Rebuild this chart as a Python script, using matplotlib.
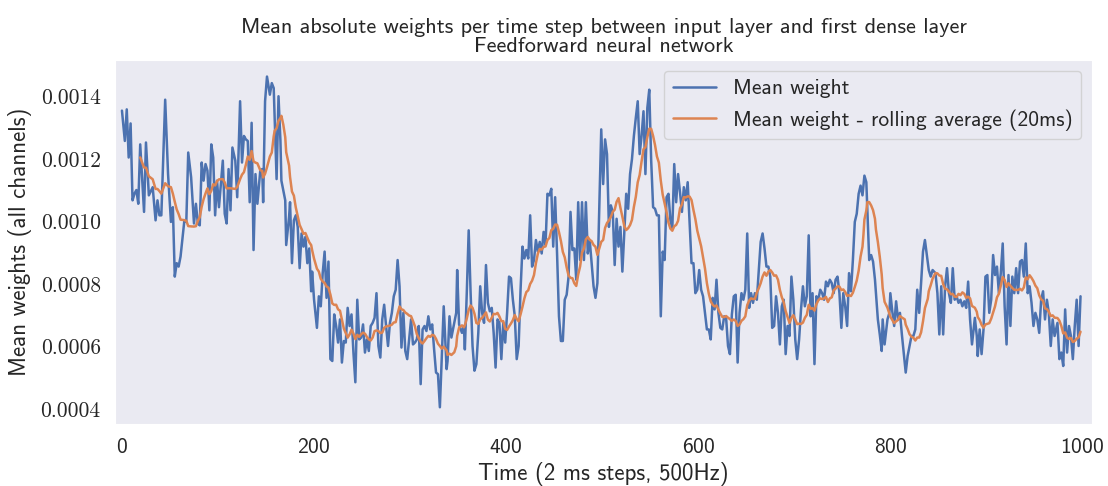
import numpy as np
import pandas as pd
import seaborn as sns
import matplotlib.pyplot as plt

# time index (2 ms steps) and mean absolute weight (x1e-4)
steps = [0, 3, 5, 7, 9, 11, 13, 15, 17, 19, 23, 25, 28, 32, 35, 37, 39, 41, 45, 48,
         51, 53, 55, 57, 59, 61, 65, 67, 69, 72, 75, 77, 79, 81, 83, 85, 87, 89, 91, 93,
         95, 97, 99, 101, 105, 107, 109, 111, 113, 115, 118, 120, 123,
         125, 127, 129, 131, 133, 135, 137, 139, 141, 144, 146, 147, 149, 151, 154, 156, 158,
         159, 161, 163, 165, 166, 168, 170, 171, 174, 175, 177, 179, 181, 183, 185, 187, 189,
         191, 193, 195, 197, 198, 200, 203, 205, 207, 209, 211, 213, 215, 217, 219, 221, 223,
         225, 227, 229, 231, 233, 235, 237, 239, 241, 243, 245, 247,
         249, 251, 253, 255, 257, 259, 261, 263, 265, 267, 269, 271, 273, 275, 277, 279, 281,
         283, 285, 287, 289, 291, 293, 295, 297, 299, 301, 303, 305, 307, 309, 311, 313, 315,
         317, 319, 321, 323, 325, 327, 329, 331, 333, 335, 338, 339, 341, 343, 346, 348, 349,
         351, 354, 356, 357, 359, 361, 363, 365, 367, 369, 371, 373,
         375, 377, 379, 381, 383, 385, 387, 389, 391, 393, 395, 397, 399, 401, 403, 405, 407,
         409, 411, 413, 415, 417, 419, 421, 423, 425, 427, 429, 431, 433, 435, 437, 439, 441,
         443, 445, 447, 449, 451, 453, 455, 457, 459, 461, 463, 465, 467, 469, 471, 473, 475,
         477, 479, 481, 483, 485, 487, 489, 491, 493, 495,
         499, 501, 503, 505, 507, 509, 511, 513, 515, 517, 519, 521, 523, 525, 527, 529, 531,
         533, 535, 537, 539, 541, 543, 545, 547, 549, 551, 553, 555, 557, 559, 561, 563, 565,
         567, 569, 571, 573, 575, 577, 579, 581, 583, 585, 587, 589, 591, 593, 595, 597, 599,
         601, 603, 605, 607, 609, 611, 613, 615, 617, 619, 621,
         623, 625, 627, 629, 631, 633, 635, 637, 639, 641, 643, 645, 647, 649, 651, 653, 655,
         657, 659, 661, 663, 665, 667, 669, 671, 673, 675, 677, 679, 681, 683, 685, 687, 689,
         691, 693, 695, 697, 699, 701, 703, 705, 707, 709, 711, 713, 715, 717, 719, 721, 723,
         725, 727, 729, 731, 733, 735, 737, 739, 741, 743, 745, 747,
         749, 751, 753, 755, 757, 759, 761, 763, 765, 767, 769, 771, 772, 773, 775, 776, 778,
         780, 782, 784, 785, 787, 789, 791, 792, 794, 797, 799, 800, 802, 804, 806, 808, 810,
         812, 815, 816, 818, 820, 822, 824, 826, 828, 830, 832, 834, 836, 839, 840, 842, 844,
         847, 849, 851, 853, 855, 857, 859, 861, 863, 865, 867, 869, 871,
         873, 875, 877, 879, 881, 883, 885, 888, 890, 891, 893, 895, 897, 899, 901, 903, 905,
         907, 909, 911, 913, 915, 917, 919, 921, 923, 925, 927, 929, 931, 933, 935, 937, 939,
         941, 943, 945, 947, 949, 951, 953, 955, 957, 959, 961, 963, 965, 967, 969, 971, 974,
         976, 978, 980, 982, 984, 986, 988, 990, 992, 994, 996, 998]

weights = [13.54, 12.57, 13.58, 12.04, 13.13, 10.67, 10.88, 11.00, 10.56, 12.46, 10.30, 12.52,
           10.83, 11.09, 10.03, 10.67, 10.19, 10.19, 13.89, 11.51, 9.98, 10.45, 8.23, 8.66,
           8.55, 8.87, 10.03, 9.98, 12.20, 11.41, 9.93, 10.56, 9.93, 9.87, 11.88, 11.30, 11.83,
           11.62, 10.35, 12.46, 12.04, 10.19, 11.30, 10.45, 11.94, 10.24, 9.93, 11.67, 10.35,
           12.36, 11.94, 10.77, 13.84,
           11.88, 12.73, 12.62, 12.57, 10.61, 13.15, 9.08, 11.51, 10.56, 11.62, 11.67, 10.61,
           13.84, 14.63, 14.05, 14.42, 14.26, 13.31, 11.35, 14.00, 12.57, 11.30, 10.98, 10.67,
           9.24, 10.14, 10.61, 8.66, 10.03, 10.19, 9.82, 8.50, 9.61, 9.19, 9.50, 8.66, 9.13,
           7.76, 8.39, 7.49, 6.59, 7.60, 7.28, 8.34, 9.03, 7.55, 8.71, 5.59, 5.53, 7.02, 6.65,
           6.12, 6.86, 5.48, 6.17, 6.12, 7.23, 6.65, 7.02, 5.80, 4.85, 7.49, 6.22,
           6.28, 6.70, 5.80, 6.22, 5.85, 6.65, 6.75, 6.91, 7.70, 6.01, 5.64, 6.86, 7.33, 6.65,
           6.01, 6.75, 7.07, 7.60, 7.81, 8.76, 7.92, 5.96, 7.07, 5.85, 5.59, 6.22, 6.86, 6.06,
           6.12, 6.22, 6.65, 4.79, 6.54, 6.65, 6.49, 6.96, 6.54, 6.70, 5.90, 5.16, 5.11, 4.05,
           5.69, 7.28, 5.27, 5.53, 6.96, 6.28, 6.75, 7.07, 8.44, 6.70, 6.43, 6.65, 5.90, 7.70,
           9.71, 7.70, 6.01, 5.22, 5.43, 6.43, 7.92,
           7.07, 6.75, 8.60, 7.39, 7.12, 7.23, 6.43, 5.32, 6.86, 6.75, 5.59, 6.75, 6.12, 7.07,
           8.23, 8.18, 7.49, 6.96, 5.59, 6.01, 7.81, 9.19, 8.81, 9.08, 8.81, 10.19, 8.55, 8.76,
           9.40, 9.03, 9.34, 8.97, 9.66, 9.24, 10.88, 10.83, 11.04, 9.19, 10.77, 8.97, 6.96,
           6.17, 6.17, 7.49, 7.65, 8.23, 10.30, 9.08, 9.13, 8.13, 10.61, 8.76, 10.61, 8.76,
           10.61, 8.97, 9.40, 8.66, 7.92, 7.55, 8.02,
           12.94, 11.19, 12.62, 12.15, 9.82, 10.51, 10.30, 8.60, 10.08, 9.19, 9.82, 8.39, 9.61,
           10.88, 10.40, 11.51, 11.99, 12.73, 13.31, 13.84, 12.15, 12.73, 13.52, 11.51, 13.63,
           14.21, 11.94, 10.45, 10.40, 10.19, 10.19, 6.96, 9.03, 8.76, 10.77, 10.88, 10.03,
           9.77, 11.83, 10.61, 11.51, 10.93, 10.30, 11.09, 10.67, 11.25, 9.93, 8.66, 8.66, 7.70,
           7.81, 8.44, 7.81, 7.60, 7.07, 6.54, 6.54, 6.22, 7.55, 7.18, 8.13, 7.07,
           6.59, 6.54, 6.96, 6.91, 6.01, 5.75, 7.02, 7.60, 7.65, 5.48, 7.07, 7.70, 7.49, 7.81,
           9.61, 7.23, 7.70, 7.39, 7.70, 7.49, 8.44, 9.34, 9.61, 9.13, 8.55, 8.55, 8.23, 6.59,
           6.65, 7.60, 7.07, 6.06, 7.28, 7.49, 5.75, 6.65, 6.33, 8.23, 7.49, 6.22, 5.59, 6.22,
           7.18, 7.92, 7.28, 7.60, 9.55, 6.96, 7.70, 5.43, 7.60, 7.49, 7.81, 7.70, 7.49, 8.07,
           7.92, 8.13, 8.02, 7.70, 8.13, 8.23, 7.70,
           6.59, 7.70, 7.28, 6.65, 8.34, 7.76, 8.76, 9.98, 10.24, 10.88, 11.14, 10.83, 11.14,
           11.46, 11.25, 10.45, 8.76, 8.92, 8.71, 8.13, 7.70, 6.86, 6.38, 5.85, 6.86, 6.06, 6.86,
           7.07, 7.70, 7.12, 6.65, 7.44, 6.86, 7.07, 6.38, 5.48, 5.16, 5.69, 6.01, 6.33, 6.33,
           6.54, 7.81, 7.07, 8.02, 9.03, 9.40, 8.66, 8.44, 8.23, 8.44, 8.34, 7.70, 6.38, 7.92,
           6.38, 7.92, 8.50, 7.70, 7.39, 8.50, 7.49, 7.60, 7.39,
           7.49, 7.28, 7.44, 7.23, 8.07, 6.86, 6.06, 6.91, 6.33, 5.69, 6.54, 5.75, 6.54, 8.23,
           8.28, 7.07, 7.49, 8.92, 8.28, 8.55, 7.70, 8.34, 9.29, 7.28, 6.06, 8.28, 6.65, 8.23,
           7.70, 8.50, 7.70, 8.71, 8.76, 8.23, 9.29, 7.70, 7.92, 7.39, 6.65, 7.07, 6.86, 6.43,
           7.49, 7.76, 6.86, 7.49, 7.07, 6.01, 6.86, 6.33, 6.75, 5.59, 5.80, 5.37, 7.18, 5.80,
           6.65, 6.33, 5.59, 6.65, 7.49, 6.01, 7.60]

#%% series
mean_w = pd.Series(np.array(weights) * 1e-4, index=steps)
rolling_w = mean_w.rolling(10).mean()  # 20 ms window

#%% plot
sns.set_style('dark')
plt.rcParams['font.family'] = ['cmss10', 'DejaVu Sans']
plt.rcParams['axes.formatter.use_mathtext'] = True

fig, ax = plt.subplots(figsize=(11.08, 4.86), dpi=100)
fig.subplots_adjust(left=0.104, right=0.9856, top=0.8765, bottom=0.128)

ax.plot(mean_w.index, mean_w.values, color='#4C72B0', lw=1.8, label='Mean weight')
ax.plot(rolling_w.index, rolling_w.values, color='#DD8452', lw=1.8,
        label='Mean weight - rolling average (20ms)')

ax.set_xlim(-7, 1010)
ax.set_xticks([0, 200, 400, 600, 800, 1000])
ax.set_yticks([0.0004, 0.0006, 0.0008, 0.0010, 0.0012, 0.0014])
ax.set_yticklabels(['0.0004', '0.0006', '0.0008', '0.0010', '0.0012', '0.0014'],
                   family='cmr10')
ax.tick_params(axis='both', labelsize=15.5, pad=7)

ax.set_xlabel('Time (2 ms steps, 500Hz)', fontsize=16.5, labelpad=3)
ax.set_ylabel('Mean weights (all channels)', fontsize=16.5, labelpad=6)
ax.set_title('Mean absolute weights per time step between input layer and first dense layer\n'
             'Feedforward neural network', fontsize=16, linespacing=1.0)

ax.legend(loc='upper right', fontsize=15.5)

plt.savefig('out.png', dpi=100)
